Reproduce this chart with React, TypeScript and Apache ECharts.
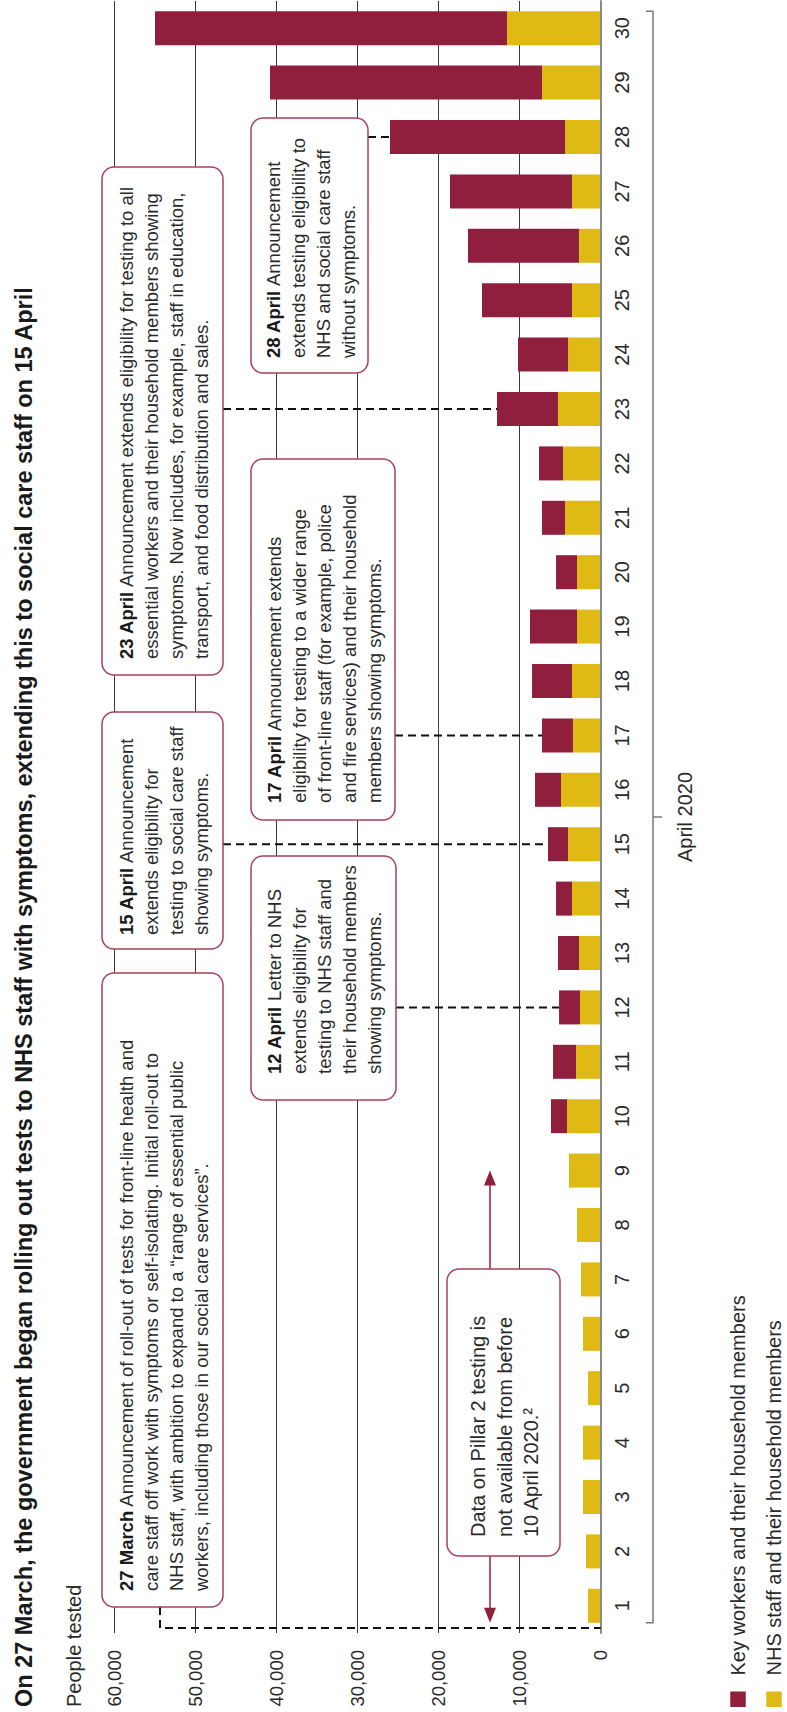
import React, { useEffect, useRef } from "react";
import * as echarts from "echarts";

// ---------- data ----------
const days = ["1","2","3","4","5","6","7","8","9","10","11","12","13","14","15","16","17","18","19","20","21","22","23","24","25","26","27","28","29","30"];
const nhsStaff = [1570,1810,2180,2180,1570,2180,2430,2920,3910,4160,3050,2550,2680,3540,4030,4900,3420,3540,2920,2920,4400,4650,5270,4030,3540,2680,3540,4400,7240,11560];
const keyWorkers = [null,null,null,null,null,null,null,null,null,1970,2830,2590,2590,1970,2470,3200,3820,4930,5800,2590,2840,2960,7520,6170,11100,13690,15050,21590,33550,43420];
const valueTicks = [0, 10000, 20000, 30000, 40000, 50000, 60000];
const seriesNames = ["Key workers and their household members", "NHS staff and their household members"];
const titleText = "On 27 March, the government began rolling out tests to NHS staff with symptoms, extending this to social care staff on 15 April";
const axisTitle = "People tested";
const monthLabel = "April 2020";

const notes = [
  { day: null, bold: "27 March", lines: ["Announcement of roll-out of tests for front-line health and", "care staff off work with symptoms or self-isolating. Initial roll-out to", "NHS staff, with ambition to expand to a \u201crange of essential public", "workers, including those in our social care services\u201d."] },
  { day: 12, bold: "12 April", lines: ["Letter to NHS", "extends eligibility for", "testing to NHS staff and", "their household members", "showing symptoms."] },
  { day: 15, bold: "15 April", lines: ["Announcement", "extends eligibility for", "testing to social care staff", "showing symptoms."] },
  { day: 17, bold: "17 April", lines: ["Announcement extends", "eligibility for testing to a wider range", "of front-line staff (for example, police", "and fire services) and their household", "members showing symptoms."] },
  { day: 23, bold: "23 April", lines: ["Announcement extends eligibility for testing to all", "essential workers and their household members showing", "symptoms. Now includes, for example, staff in education,", "transport, and food distribution and sales."] },
  { day: 28, bold: "28 April", lines: ["Announcement", "extends testing eligibility to", "NHS and social care staff", "without symptoms."] },
];
const dataNote = ["Data on Pillar 2 testing is", "not available from before", "10 April 2020.\u00b2"];

// ---------- layout (unrotated frame: 1712 wide x 787 tall) ----------
const W = 1712;
const H = 787;
const FONT = '"Liberation Sans", Arial, sans-serif';
const RED = "#8f1f3d";
const YELLOW = "#dfb914";
const BOX_STROKE = "#a8405f";
const TXT = "#2a2a2a";
const boxes = [
  { x: 105, y: 102, w: 634, h: 121, pad: 16 },
  { x: 612, y: 251, w: 244, h: 145, pad: 26 },
  { x: 763, y: 102, w: 237, h: 121, pad: 14 },
  { x: 892, y: 251, w: 361, h: 144, pad: 17 },
  { x: 1037, y: 102, w: 508, h: 121, pad: 16 },
  { x: 1339, y: 251, w: 255, h: 117, pad: 15 },
];
const dataBox = { x: 156, y: 447, w: 287, h: 113, pad: 19 };

const fmt = (v: number) => String(v).replace(/\B(?=(\d{3})+(?!\d))/g, ",");

export default function App() {
  const ref = useRef<HTMLDivElement>(null);
  useEffect(() => {
    if (!ref.current) return;
    const chart = echarts.init(ref.current, null, { renderer: "svg", width: W, height: H });
    const legendBase = {
      orient: "horizontal",
      left: 5,
      padding: 0,
      itemWidth: 15.5,
      itemHeight: 15.5,
      icon: "rect",
      selectedMode: false,
      textStyle: { fontSize: 20, color: TXT, fontFamily: FONT, padding: [0, 0, 0, 11] },
    };
    chart.setOption({
      animation: false,
      backgroundColor: "#ffffff",
      textStyle: { fontFamily: FONT },
      grid: { left: 79, right: 1, top: 114.3, bottom: H - 600.7, containLabel: false },
      legend: [
        { ...legendBase, data: [seriesNames[0]], top: 728 },
        { ...legendBase, data: [seriesNames[1]], top: 764 },
      ],
      xAxis: {
        type: "category",
        data: days,
        axisLine: { lineStyle: { color: "#8a8a8a", width: 2 } },
        axisTick: { show: false },
        axisLabel: { fontSize: 20, color: TXT, margin: 11, fontFamily: FONT },
        splitLine: { show: false },
        z: 5,
      },
      yAxis: {
        type: "value",
        min: valueTicks[0],
        max: valueTicks[valueTicks.length - 1],
        interval: 10000,
        axisLine: { show: false },
        axisTick: { show: false },
        axisLabel: { fontSize: 18.5, color: TXT, margin: 17, fontFamily: FONT, formatter: (v: number) => fmt(v) },
        splitLine: { lineStyle: { color: "#3a3a3a", width: 1 } },
      },
      series: [
        { name: seriesNames[1], type: "bar", stack: "t", data: nhsStaff, barWidth: 34, itemStyle: { color: YELLOW } },
        { name: seriesNames[0], type: "bar", stack: "t", data: keyWorkers, barWidth: 34, itemStyle: { color: RED } },
      ],
      color: [YELLOW, RED],
    });

    const px = (i: number, v: number) => chart.convertToPixel({ gridIndex: 0 }, [i, v]) as number[];
    const total = (i: number) => nhsStaff[i] + (keyWorkers[i] || 0);
    const zeroY = px(0, 0)[1];
    const g: any[] = [];

    g.push({ type: "text", z: 20, style: { x: 5, y: 24, text: titleText, fontSize: 23.5, fontWeight: "bold", fontFamily: FONT, fill: "#1a1a1a", verticalAlign: "middle" } });
    g.push({ type: "text", z: 20, style: { x: 5, y: 74, text: axisTitle, fontSize: 20, fontFamily: FONT, fill: TXT, verticalAlign: "middle" } });

    const dash = { stroke: "#111", lineWidth: 2, lineDash: [8, 5] };
    // leaders
    notes.forEach((n, k) => {
      const b = boxes[k];
      if (n.day == null) {
        g.push({ type: "polyline", z: 8, shape: { points: [[b.x, 160], [84, 160], [84, zeroY]] }, style: { ...dash, fill: null } });
      } else {
        const i = n.day - 1;
        const p = px(i, total(i));
        g.push({ type: "line", z: 8, shape: { x1: p[0], y1: b.y + b.h, x2: p[0], y2: p[1] }, style: dash });
      }
    });

    // boxes
    notes.forEach((n, k) => {
      const b = boxes[k];
      g.push({ type: "rect", z: 10, shape: { x: b.x, y: b.y, width: b.w, height: b.h, r: 12 }, style: { fill: "#fff", stroke: BOX_STROKE, lineWidth: 1.5 } });
      const text = ["{b|" + n.bold + "} " + n.lines[0], ...n.lines.slice(1)].join("\n");
      g.push({
        type: "text", z: 11,
        style: {
          x: b.x + b.pad, y: b.y + b.h / 2 + 1, text, verticalAlign: "middle", align: "left",
          fontSize: 18.5, lineHeight: 25, fontFamily: FONT, fill: TXT,
          rich: { b: { fontWeight: "bold", fontSize: 18.5, lineHeight: 25, fontFamily: FONT, fill: "#1a1a1a" } },
        },
      });
    });

    // data availability box + arrows
    g.push({ type: "rect", z: 10, shape: { x: dataBox.x, y: dataBox.y, width: dataBox.w, height: dataBox.h, r: 12 }, style: { fill: "#fff", stroke: BOX_STROKE, lineWidth: 1.5 } });
    g.push({ type: "text", z: 11, style: { x: dataBox.x + dataBox.pad, y: dataBox.y + dataBox.h / 2 + 1, text: dataNote.join("\n"), verticalAlign: "middle", fontSize: 20, lineHeight: 26.7, fontFamily: FONT, fill: TXT } });
    const av = 490;
    const rightTip = px(8, 0)[0];
    const leftTip = px(0, 0)[0] - 17;
    g.push({ type: "line", z: 9, shape: { x1: dataBox.x + dataBox.w, y1: av, x2: rightTip - 14, y2: av }, style: { stroke: RED, lineWidth: 1.5 } });
    g.push({ type: "polygon", z: 9, shape: { points: [[rightTip, av], [rightTip - 15, av - 6], [rightTip - 15, av + 6]] }, style: { fill: RED } });
    g.push({ type: "line", z: 9, shape: { x1: dataBox.x, y1: av, x2: leftTip + 14, y2: av }, style: { stroke: RED, lineWidth: 1.5 } });
    g.push({ type: "polygon", z: 9, shape: { points: [[leftTip, av], [leftTip + 15, av - 6], [leftTip + 15, av + 6]] }, style: { fill: RED } });

    // month bracket
    const first = px(0, 0)[0] - 17;
    const last = px(29, 0)[0] + 17;
    const mid = (px(14, 0)[0] + px(15, 0)[0]) / 2;
    const by = 653;
    g.push({ type: "polyline", z: 5, shape: { points: [[first, by - 7], [first, by], [last, by], [last, by - 7]] }, style: { stroke: "#7a7a7a", lineWidth: 1.5, fill: null } });
    g.push({ type: "line", z: 5, shape: { x1: mid, y1: by, x2: mid, y2: by + 9 }, style: { stroke: "#7a7a7a", lineWidth: 1.5 } });
    g.push({ type: "text", z: 5, style: { x: mid, y: 685, text: monthLabel, align: "center", verticalAlign: "middle", fontSize: 20, fontFamily: FONT, fill: TXT } });

    chart.setOption({ graphic: g });
    return () => chart.dispose();
  }, []);

  return (
    <div style={{ position: "absolute", left: 0, top: 0, width: 787, height: 1712, overflow: "hidden", background: "#fff" }}>
      <div
        ref={ref}
        style={{
          position: "absolute", left: 0, top: 0, width: W, height: H,
          transformOrigin: "0 0", transform: "translate(0px, 1712px) rotate(-90deg)",
        }}
      />
    </div>
  );
}
